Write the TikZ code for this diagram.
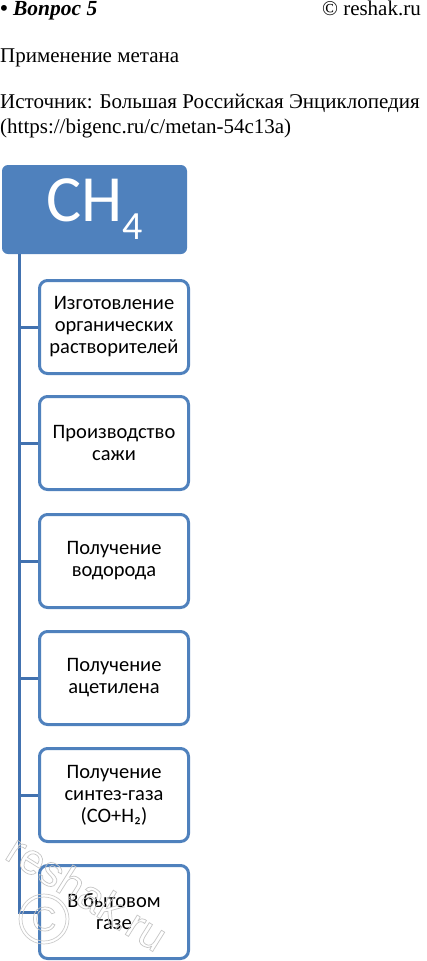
\documentclass[tikz,border=0pt]{standalone}
\usepackage{fontspec}
\setmainfont{Liberation Serif}
\setsansfont{Liberation Sans}
\newfontfamily\boxfont{Carlito}
\usetikzlibrary{positioning}

\definecolor{chblue}{HTML}{4F81BD}
\definecolor{lineblue}{HTML}{4272B0}

% hollow letters for the watermark
\newcommand{\hollow}[1]{\special{pdf:literal direct 1 Tr 0.7 w}#1\special{pdf:literal direct 0 Tr}}

\begin{document}
\begin{tikzpicture}[x=1pt, y=-1pt,
    headtext/.style={anchor=base west, inner sep=0pt, font=\fontsize{21}{24}\selectfont},
    rootbox/.style={fill=chblue, rounded corners=6pt, minimum width=185pt, minimum height=89pt,
        inner sep=0pt, text=white, font=\boxfont\fontsize{66}{66}\selectfont},
    usebox/.style={draw=chblue, line width=3pt, fill=white, rounded corners=8pt,
        minimum width=149pt, minimum height=93pt, align=center,
        inner sep=0pt, anchor=west, font=\boxfont\fontsize{20.5}{22}\selectfont},
    link/.style={draw=lineblue, line width=3pt},
    wmark/.style={text=gray!45, inner sep=0pt}]
    % Fix the page size
    \useasboundingbox (0,0) rectangle (426,961);

    % Heading lines
    \node[headtext, font=\bfseries\itshape\fontsize{21.5}{24}\selectfont] (question) at (0,16) {• Вопрос 5};
    \node[headtext, anchor=base east] (site) at (421,16) {© reshak.ru};
    \node[headtext] (title) at (0,62) {Применение метана};
    \node[headtext] (source) at (0,108) {Источник: Большая Российская Энциклопедия};
    \node[headtext] (url) at (0,133) {(https://bigenc.ru/c/metan-54c13a)};

    % Root box
    \node[rootbox] (root) at (94.5,209.5) {\raisebox{8pt}{CH\raisebox{-18pt}{\fontsize{40}{40}\selectfont 4}}};
    \coordinate (trunk) at ([xshift=18pt]root.south west);

    % Uses of methane
    \node[usebox] (use1) at (38,327) {Изготовление\\органических\\растворителей};
    \node[usebox] (use2) at (38,443) {Производство\\сажи};
    \node[usebox] (use3) at (38,561) {Получение\\водорода};
    \node[usebox] (use4) at (38,678) {Получение\\ацетилена};
    \node[usebox] (use5) at (38,795) {Получение\\синтез-газа\\(CO+H₂)};
    \node[usebox] (use6) at (38,912) {В бытовом\\газе};

    % Connectors
    \draw[link] (trunk) |- (use6.west);
    \draw[link] (trunk |- use1.west) -- (use1.west);
    \draw[link] (trunk |- use2.west) -- (use2.west);
    \draw[link] (trunk |- use3.west) -- (use3.west);
    \draw[link] (trunk |- use4.west) -- (use4.west);
    \draw[link] (trunk |- use5.west) -- (use5.west);

    % Watermark
    \node[wmark, circle, draw=gray!40, line width=0.7pt, minimum size=44pt,
        font=\sffamily\fontsize{34}{34}\selectfont] (wmsign) at (44,919) {\hollow{C}};
    \draw[gray!40, line width=0.7pt] (wmsign) circle (25pt);
    \node[wmark, rotate=-32, anchor=base west, font=\sffamily\fontsize{43}{43}\selectfont] (wmtext) at (3,858) {\hollow{reshak.ru}};
\end{tikzpicture}
\end{document}
